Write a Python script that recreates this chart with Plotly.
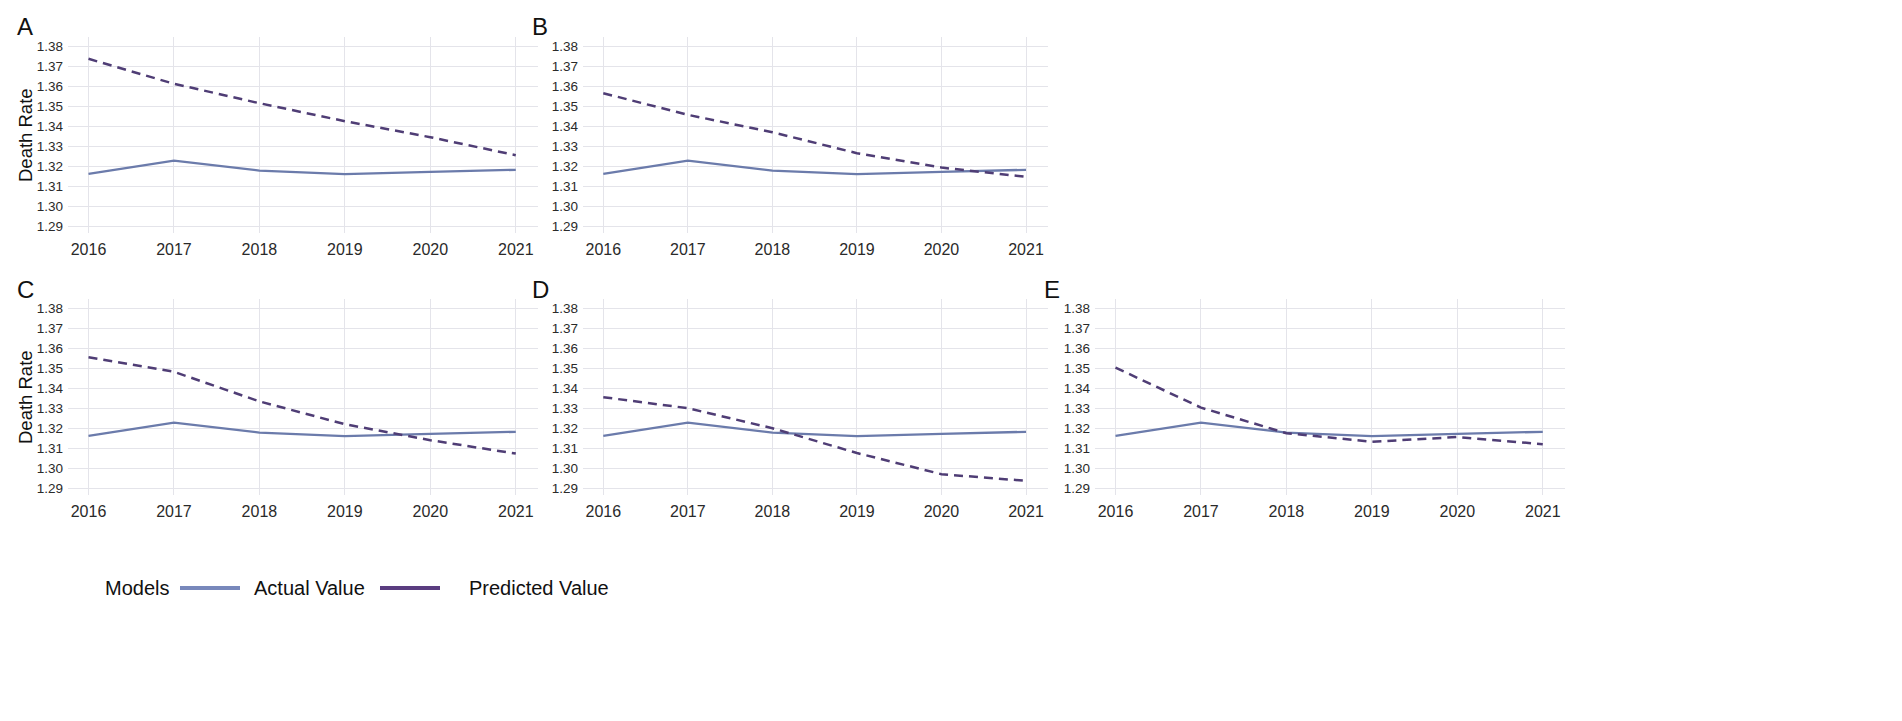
import plotly.graph_objects as go

W, H = 1902, 721

years = [2016, 2017, 2018, 2019, 2020, 2021]
actual = [1.3162, 1.3228, 1.3178, 1.3160, 1.3172, 1.3182]
pred_A = [1.3737, 1.3612, 1.3515, 1.3425, 1.3345, 1.3255]
pred_B = [1.3565, 1.3457, 1.3370, 1.3265, 1.3193, 1.3147]
pred_C = [1.3555, 1.3482, 1.3334, 1.3220, 1.3140, 1.3073]
pred_D = [1.3355, 1.3300, 1.3200, 1.3076, 1.2970, 1.2937]
pred_E = [1.3503, 1.3303, 1.3175, 1.3132, 1.3156, 1.3120]
panel_labels = ["A", "B", "C", "D", "E"]
y_ticks = [1.29, 1.30, 1.31, 1.32, 1.33, 1.34, 1.35, 1.36, 1.37, 1.38]
legend_title = "Models"
legend_names = ["Actual Value", "Predicted Value"]
y_title = "Death Rate"

preds = [pred_A, pred_B, pred_C, pred_D, pred_E]

actual_color = "#6b7bab"
pred_color = "#4f3d75"
grid_color = "#e4e4ea"
text_color = "#2a2a2a"
font_family = "Liberation Sans, Roboto, Arial, sans-serif"

# panel plot areas in pixels: (left, right, top, bottom)
panels_px = [
    (60, 530, 29, 225),
    (575, 1040, 29, 225),
    (60, 530, 291, 487),
    (575, 1040, 291, 487),
    (1087, 1557, 291, 487),
]

fig = go.Figure()
layout = dict(
    width=W, height=H,
    margin=dict(l=0, r=0, t=0, b=0),
    paper_bgcolor="white", plot_bgcolor="white",
    showlegend=False,
    font=dict(family=font_family, color=text_color),
)

annotations = []
shapes = []
for i, (pred, (l, r, t, b)) in enumerate(zip(preds, panels_px)):
    n = i + 1
    xa = "x" if n == 1 else f"x{n}"
    ya = "y" if n == 1 else f"y{n}"
    fig.add_trace(go.Scatter(x=years, y=actual, mode="lines", xaxis=xa, yaxis=ya,
                             name=legend_names[0],
                             line=dict(color=actual_color, width=2.3)))
    fig.add_trace(go.Scatter(x=years, y=pred, mode="lines", xaxis=xa, yaxis=ya,
                             name=legend_names[1],
                             line=dict(color=pred_color, width=2.5, dash="9px,6px")))
    xkey = "xaxis" if n == 1 else f"xaxis{n}"
    ykey = "yaxis" if n == 1 else f"yaxis{n}"
    layout[xkey] = dict(
        domain=[l / W, r / W], anchor=ya, range=[2015.76, 2021.26],
        tickvals=years, ticktext=[str(y) for y in years],
        showgrid=True, gridcolor=grid_color, gridwidth=1,
        zeroline=False, showline=False, ticks="",
        tickfont=dict(size=16, color=text_color), ticklabelstandoff=5,
    )
    layout[ykey] = dict(
        domain=[1 - b / H, 1 - t / H], anchor=xa, range=[1.2866, 1.3846],
        tickvals=y_ticks, tickformat=".2f",
        showgrid=True, gridcolor=grid_color, gridwidth=1,
        zeroline=False, showline=False, ticks="",
        tickfont=dict(size=13.5, color=text_color), ticklabelstandoff=4,
    )
    # panel letter
    annotations.append(dict(
        text=panel_labels[i], x=(l - 53) / W, y=1 - (t - 10) / H,
        xref="paper", yref="paper", xanchor="left", yanchor="middle",
        showarrow=False, font=dict(size=24, color="#111111", family=font_family),
    ))

# y titles on left panels
for (l, r, t, b) in [panels_px[0], panels_px[2]]:
    annotations.append(dict(
        text=y_title, x=17 / W, y=1 - ((t + b) / 2) / H,
        xref="paper", yref="paper", xanchor="center", yanchor="middle",
        textangle=-90, showarrow=False,
        font=dict(size=18.5, color="#111111", family=font_family),
    ))

# legend
ly = 1 - 580 / H
annotations.append(dict(text=legend_title, x=95 / W, y=ly, xref="paper", yref="paper",
                        xanchor="left", yanchor="middle", showarrow=False,
                        font=dict(size=20, color="#111111", family=font_family)))
annotations.append(dict(text=legend_names[0], x=244 / W, y=ly, xref="paper", yref="paper",
                        xanchor="left", yanchor="middle", showarrow=False,
                        font=dict(size=20, color="#111111", family=font_family)))
annotations.append(dict(text=legend_names[1], x=459 / W, y=ly, xref="paper", yref="paper",
                        xanchor="left", yanchor="middle", showarrow=False,
                        font=dict(size=20, color="#111111", family=font_family)))
shapes.append(dict(type="line", xref="paper", yref="paper", x0=172 / W, x1=232 / W,
                   y0=ly, y1=ly, line=dict(color="#7888bb", width=4)))
shapes.append(dict(type="line", xref="paper", yref="paper", x0=372 / W, x1=432 / W,
                   y0=ly, y1=ly, line=dict(color="#5a3d80", width=4)))

layout["annotations"] = annotations
layout["shapes"] = shapes
fig.update_layout(**layout)
fig.write_html("out.html")
